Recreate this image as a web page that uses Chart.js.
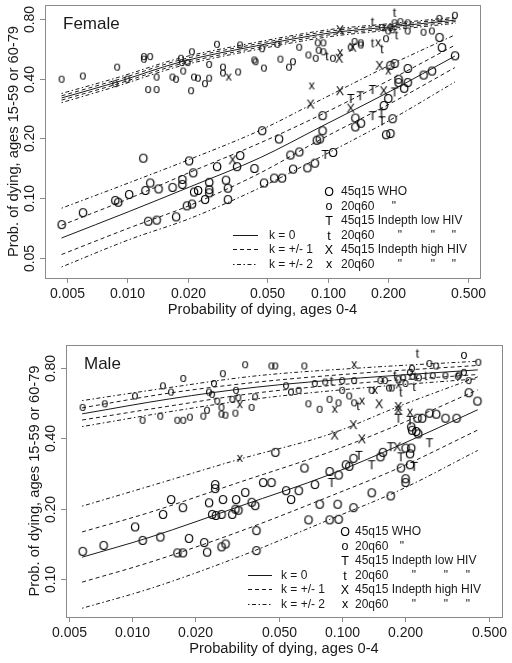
<!DOCTYPE html>
<html><head><meta charset="utf-8">
<script src="https://cdn.jsdelivr.net/npm/chart.js@4"></script>
<style>
html,body{margin:0;padding:0;background:#fff;}
#wrap{position:relative;width:512px;height:663px;overflow:hidden;}
canvas{position:absolute;left:0;}
</style>
</head><body>
<div id="wrap">
<canvas id="fem" width="512" height="320" style="top:0px"></canvas>
<canvas id="mal" width="512" height="343" style="top:320px"></canvas>
</div>
<script>
// ---------------- tick values / labels ----------------
const xTicks = [0.005, 0.010, 0.020, 0.050, 0.100, 0.200, 0.500];
const xTickLabels = ['0.005', '0.010', '0.020', '0.050', '0.100', '0.200', '0.500'];
const femYTicks = [0.05, 0.10, 0.20, 0.40, 0.80];
const femYTickLabels = ['0.05', '0.10', '0.20', '0.40', '0.80'];
const malYTicks = [0.10, 0.20, 0.40, 0.80];
const malYTickLabels = ['0.10', '0.20', '0.40', '0.80'];

const legendSymbols = ['O', 'o', 'T', 't', 'X', 'x'];
const legendTexts = ['45q15 WHO', '20q60', '45q15 Indepth low HIV', '20q60', '45q15 Indepth high HIV', '20q60'];
const kTexts = ['k = 0', 'k = +/- 1', 'k = +/- 2'];

// ---------------- FEMALE model lines ----------------
const femLowX  = [0.0047, 0.0103, 0.0205, 0.046, 0.0915, 0.205, 0.43];
const femLow0  = [0.063, 0.086, 0.114, 0.160, 0.228, 0.346, 0.520];
const femLowP1 = [0.073, 0.100, 0.135, 0.190, 0.262, 0.396, 0.590];
const femLowM1 = [0.052, 0.071, 0.092, 0.134, 0.197, 0.300, 0.455];
const femLowP2 = [0.089, 0.120, 0.157, 0.220, 0.312, 0.470, 0.665];
const femLowM2 = [0.045, 0.062, 0.079, 0.113, 0.161, 0.248, 0.385];

const femUpX  = [0.0047, 0.0089, 0.0183, 0.0438, 0.1025, 0.2045, 0.435];
const femUp0  = [0.320, 0.385, 0.485, 0.585, 0.680, 0.730, 0.790];
const femUpP1 = [0.328, 0.395, 0.497, 0.598, 0.695, 0.745, 0.805];
const femUpM1 = [0.312, 0.376, 0.474, 0.572, 0.666, 0.716, 0.776];
const femUpP2 = [0.337, 0.405, 0.508, 0.610, 0.708, 0.758, 0.818];
const femUpM2 = [0.303, 0.367, 0.463, 0.560, 0.652, 0.703, 0.762];

// ---------------- FEMALE points [x, y] ----------------
const femO = [[0.0047,0.074],[0.006,0.085],[0.0087,0.098],[0.009,0.096],[0.0102,0.105],[0.012,0.16],[0.0123,0.11],[0.0127,0.077],[0.013,0.12],[0.014,0.078],[0.0143,0.112],[0.0168,0.114],[0.0175,0.081],[0.0188,0.125],[0.0188,0.118],[0.0203,0.155],[0.0213,0.135],[0.0198,0.092],[0.021,0.094],[0.0215,0.108],[0.0225,0.11],[0.0244,0.099],[0.0256,0.121],[0.0256,0.111],[0.0256,0.107],[0.028,0.145],[0.031,0.124],[0.0317,0.113],[0.0317,0.099],[0.0352,0.145],[0.0365,0.165],[0.043,0.142],[0.047,0.22],[0.057,0.20],[0.048,0.12],[0.054,0.127],[0.059,0.127],[0.065,0.166],[0.072,0.172],[0.067,0.141],[0.079,0.143],[0.086,0.151],[0.088,0.197],[0.091,0.20],[0.094,0.22],[0.094,0.262],[0.106,0.171],[0.137,0.255],[0.137,0.23],[0.146,0.24],[0.19,0.295],[0.21,0.253],[0.195,0.21],[0.205,0.213],[0.20,0.32],[0.215,0.48],[0.205,0.47],[0.225,0.40],[0.225,0.385],[0.25,0.453],[0.25,0.385],[0.24,0.36],[0.30,0.42],[0.33,0.44],[0.37,0.578],[0.43,0.525],[0.36,0.65]];
const femo = [[0.0047,0.40],[0.006,0.415],[0.0089,0.46],[0.0087,0.38],[0.010,0.40],[0.0121,0.52],[0.0121,0.505],[0.013,0.52],[0.0127,0.355],[0.014,0.355],[0.014,0.41],[0.0168,0.41],[0.0175,0.40],[0.0185,0.51],[0.0187,0.485],[0.019,0.44],[0.020,0.485],[0.021,0.55],[0.0208,0.35],[0.0215,0.41],[0.0225,0.405],[0.0244,0.38],[0.0256,0.475],[0.0256,0.405],[0.028,0.60],[0.030,0.46],[0.030,0.43],[0.0357,0.435],[0.0365,0.595],[0.043,0.50],[0.047,0.57],[0.056,0.60],[0.072,0.58],[0.089,0.61],[0.095,0.61],[0.0436,0.49],[0.048,0.455],[0.058,0.505],[0.064,0.46],[0.067,0.49],[0.080,0.53],[0.087,0.51],[0.090,0.56],[0.095,0.55],[0.106,0.51],[0.13,0.58],[0.136,0.62],[0.146,0.595],[0.146,0.61],[0.186,0.73],[0.195,0.64],[0.20,0.70],[0.205,0.73],[0.21,0.71],[0.215,0.77],[0.23,0.78],[0.25,0.77],[0.25,0.70],[0.30,0.69],[0.33,0.70],[0.36,0.81],[0.43,0.84]];
const femT = [[0.097,0.167],[0.13,0.32],[0.145,0.33],[0.167,0.355],[0.215,0.345],[0.167,0.262],[0.185,0.268],[0.186,0.247]];
const femt = [[0.099,0.525],[0.167,0.78],[0.167,0.61],[0.186,0.57],[0.215,0.87],[0.22,0.67]];
const femX = [[0.0335,0.157],[0.082,0.30],[0.115,0.35],[0.13,0.286],[0.181,0.47],[0.19,0.35],[0.114,0.51],[0.115,0.71],[0.133,0.58]];
const femx = [[0.032,0.41],[0.083,0.37],[0.20,0.44],[0.115,0.545],[0.178,0.61]];

// ---------------- MALE model lines ----------------
const malLowX  = [0.00577, 0.01215, 0.0326, 0.0874, 0.188, 0.442];
const malLow0  = [0.124, 0.151, 0.205, 0.280, 0.374, 0.530];
const malLowP1 = [0.159, 0.193, 0.260, 0.350, 0.460, 0.645];
const malLowM1 = [0.097, 0.118, 0.160, 0.226, 0.300, 0.434];
const malLowP2 = [0.205, 0.250, 0.326, 0.417, 0.550, 0.733];
const malLowM2 = [0.075, 0.091, 0.125, 0.180, 0.240, 0.355];

const malUpX  = [0.00577, 0.0151, 0.0389, 0.122, 0.442];
const malUp0  = [0.509, 0.590, 0.662, 0.725, 0.785];
const malUpP1 = [0.540, 0.625, 0.695, 0.760, 0.820];
const malUpM1 = [0.479, 0.550, 0.625, 0.690, 0.750];
const malUpP2 = [0.580, 0.660, 0.740, 0.800, 0.855];
const malUpM2 = [0.449, 0.520, 0.590, 0.656, 0.719];

// ---------------- MALE points [x, y] ----------------
const malO = [[0.0058,0.132],[0.0073,0.14],[0.0103,0.168],[0.0112,0.147],[0.014,0.19],[0.0136,0.152],[0.0153,0.22],[0.0174,0.203],[0.0164,0.13],[0.0174,0.13],[0.0186,0.15],[0.022,0.144],[0.0227,0.131],[0.0232,0.213],[0.0248,0.255],[0.0248,0.245],[0.024,0.19],[0.025,0.188],[0.0266,0.19],[0.027,0.22],[0.0266,0.138],[0.0278,0.142],[0.0299,0.19],[0.031,0.20],[0.0312,0.22],[0.032,0.198],[0.0345,0.236],[0.037,0.214],[0.0385,0.207],[0.039,0.162],[0.039,0.133],[0.042,0.26],[0.046,0.26],[0.048,0.35],[0.054,0.24],[0.057,0.22],[0.062,0.24],[0.066,0.30],[0.074,0.255],[0.087,0.29],[0.078,0.21],[0.069,0.18],[0.087,0.18],[0.096,0.28],[0.104,0.31],[0.108,0.305],[0.113,0.33],[0.095,0.21],[0.113,0.203],[0.096,0.181],[0.156,0.35],[0.152,0.335],[0.20,0.365],[0.21,0.345],[0.21,0.31],[0.19,0.30],[0.20,0.27],[0.20,0.26],[0.138,0.235],[0.17,0.228],[0.213,0.45],[0.215,0.435],[0.225,0.43],[0.228,0.49],[0.26,0.515],[0.28,0.51],[0.31,0.49],[0.35,0.49],[0.40,0.63],[0.44,0.58],[0.213,0.365],[0.24,0.49],[0.23,0.42]];
const malo = [[0.0058,0.545],[0.0074,0.565],[0.0103,0.61],[0.014,0.674],[0.0153,0.634],[0.0175,0.725],[0.0112,0.48],[0.0136,0.50],[0.0164,0.48],[0.0175,0.48],[0.0188,0.495],[0.0218,0.50],[0.0227,0.53],[0.0232,0.634],[0.024,0.62],[0.0245,0.69],[0.0254,0.58],[0.0266,0.545],[0.0266,0.51],[0.0278,0.505],[0.027,0.76],[0.031,0.515],[0.0312,0.645],[0.030,0.59],[0.032,0.60],[0.0345,0.83],[0.037,0.545],[0.0385,0.605],[0.046,0.82],[0.048,0.82],[0.066,0.82],[0.054,0.675],[0.057,0.634],[0.062,0.645],[0.074,0.69],[0.083,0.70],[0.1,0.71],[0.114,0.71],[0.1,0.645],[0.069,0.565],[0.078,0.535],[0.087,0.59],[0.096,0.57],[0.108,0.61],[0.114,0.57],[0.138,0.645],[0.152,0.71],[0.16,0.71],[0.185,0.72],[0.195,0.73],[0.167,0.66],[0.172,0.66],[0.20,0.69],[0.21,0.77],[0.215,0.80],[0.216,0.74],[0.232,0.73],[0.26,0.84],[0.28,0.82],[0.27,0.745],[0.31,0.745],[0.355,0.74],[0.36,0.75],[0.38,0.77],[0.38,0.91],[0.40,0.71],[0.445,0.85]];
const malT = [[0.089,0.26],[0.12,0.34],[0.138,0.31],[0.17,0.37],[0.19,0.335],[0.22,0.305],[0.185,0.49],[0.21,0.48],[0.26,0.385]];
const malt = [[0.089,0.71],[0.119,0.555],[0.178,0.75],[0.19,0.634],[0.228,0.93],[0.22,0.67],[0.223,0.74],[0.25,0.745]];
const malX = [[0.092,0.415],[0.113,0.46],[0.124,0.40],[0.15,0.565],[0.185,0.55],[0.185,0.53],[0.183,0.37]];
const malx = [[0.0325,0.56],[0.114,0.83],[0.092,0.535],[0.124,0.58],[0.143,0.645],[0.185,0.68],[0.21,0.52],[0.0325,0.33]];

// ---------------- drawing helpers ----------------
const FONT = '"Liberation Sans", Arial, Helvetica, sans-serif';
const INK = '#1a1a1a';
const MARK = '#000';
const DASH = [4, 3];
const DASHDOT = [1.5, 2.5, 4, 2.5];

function glyph(ch) {
  const c = document.createElement('canvas');
  c.width = 16; c.height = 16;
  const g = c.getContext('2d');
  g.font = '12.5px ' + FONT;
  g.fillStyle = MARK;
  g.textAlign = 'center';
  g.textBaseline = 'alphabetic';
  const m = g.measureText(ch);
  const asc = m.actualBoundingBoxAscent, desc = m.actualBoundingBoxDescent;
  g.fillText(ch, 8, Math.round(8 + (asc - desc) / 2));
  return c;
}
const GLYPHS = {};
legendSymbols.forEach(s => GLYPHS[s] = glyph(s));

function pts(arr) { return arr.map(p => ({x: p[0], y: p[1]})); }
function line(xs, ys, dash) {
  return {
    data: xs.map((x, i) => ({x: x, y: ys[i]})),
    showLine: true, pointRadius: 0, borderColor: INK, borderWidth: 1,
    borderDash: dash, cubicInterpolationMode: 'monotone', fill: false
  };
}
function scatter(arr, sym) {
  return { data: pts(arr), pointStyle: GLYPHS[sym], pointRadius: 4, showLine: false };
}

function panelPlugin(P) {
  return {
    id: 'panel_' + P.name,
    afterDraw(chart) {
      const ctx = chart.ctx, a = chart.chartArea;
      const xs = chart.scales.x, ys = chart.scales.y;
      ctx.save();
      // box
      ctx.strokeStyle = '#8a8a8a'; ctx.lineWidth = 1; ctx.setLineDash([]);
      ctx.strokeRect(Math.round(a.left) + 0.5, Math.round(a.top) + 0.5,
                     Math.round(a.right - a.left), Math.round(a.bottom - a.top));
      // x ticks
      ctx.fillStyle = INK;
      ctx.font = '14px ' + FONT;
      ctx.textAlign = 'center'; ctx.textBaseline = 'alphabetic';
      xTicks.forEach((v, i) => {
        const px = Math.round(xs.getPixelForValue(v)) + 0.5;
        ctx.beginPath(); ctx.moveTo(px, a.bottom); ctx.lineTo(px, a.bottom + 5); ctx.stroke();
        ctx.fillText(xTickLabels[i], px, a.bottom + 19.5);
      });
      // y ticks (rotated labels)
      P.yTicks.forEach((v, i) => {
        const py = Math.round(ys.getPixelForValue(v)) + 0.5;
        ctx.beginPath(); ctx.moveTo(a.left - 5, py); ctx.lineTo(a.left, py); ctx.stroke();
        ctx.save();
        ctx.translate(a.left - 16.5 + 5, py);
        ctx.rotate(-Math.PI / 2);
        ctx.fillText(P.yTickLabels[i], 0, 0);
        ctx.restore();
      });
      // axis titles
      ctx.font = '14.7px ' + FONT;
      ctx.fillText('Probability of dying, ages 0-4', (a.left + a.right) / 2, a.bottom + 36);
      ctx.save();
      ctx.translate(a.left - 32.5 + 5.3, (a.top + a.bottom) / 2);
      ctx.rotate(-Math.PI / 2);
      ctx.fillText('Prob. of dying, ages 15-59 or 60-79', 0, 0);
      ctx.restore();
      // panel title
      ctx.font = '17px ' + FONT; ctx.textAlign = 'left';
      ctx.fillText(P.title, a.left + 18, a.top + 23.7);
      // legend (symbols)
      const L = P.legend;
      ctx.font = '12px ' + FONT;
      legendSymbols.forEach((s, i) => {
        const ry = L.rows[i];
        ctx.drawImage(GLYPHS[s], Math.round(L.symX - 8), Math.round(ry - 8));
        ctx.textAlign = 'left';
        ctx.fillText(legendTexts[i], L.textX, ry + 4.3);
      });
      ctx.textAlign = 'center';
      ctx.fillText('"', L.q1, L.rows[1] + 4.3);
      [3, 5].forEach(r => L.q3.forEach(q => ctx.fillText('"', q, L.rows[r] + 4.3)));
      // legend (k lines)
      const dashes = [[], DASH, DASHDOT];
      kTexts.forEach((t, i) => {
        const ry = Math.round(L.rows[3 + i]) + 0.5;
        ctx.strokeStyle = INK; ctx.setLineDash(dashes[i]);
        ctx.beginPath(); ctx.moveTo(L.kx0, ry); ctx.lineTo(L.kx1, ry); ctx.stroke();
        ctx.setLineDash([]);
        ctx.textAlign = 'left';
        ctx.fillText(t, L.kText, L.rows[3 + i] + 4.3);
      });
      ctx.restore();
    }
  };
}

function makePanel(P) {
  const datasets = [];
  [[P.lowX, P.low0, []], [P.lowX, P.lowP1, DASH], [P.lowX, P.lowM1, DASH],
   [P.lowX, P.lowP2, DASHDOT], [P.lowX, P.lowM2, DASHDOT],
   [P.upX, P.up0, []], [P.upX, P.upP1, DASH], [P.upX, P.upM1, DASH],
   [P.upX, P.upP2, DASHDOT], [P.upX, P.upM2, DASHDOT]]
    .forEach(d => datasets.push(line(d[0], d[1], d[2])));
  legendSymbols.forEach(s => datasets.push(scatter(P.points[s], s)));
  const area = P.area;
  new Chart(document.getElementById(P.canvas), {
    type: 'scatter',
    data: { datasets },
    options: {
      responsive: false, animation: false, devicePixelRatio: 1,
      layout: { padding: { left: 0, top: area.t, right: P.w - area.r, bottom: 0 } },
      plugins: { legend: { display: false }, tooltip: { enabled: false } },
      scales: {
        x: { type: 'logarithmic', min: P.xMin, max: P.xMax,
             ticks: { display: false }, grid: { display: false }, border: { display: false },
             afterFit(s) { s.height = P.h - area.b; } },
        y: { type: 'logarithmic', min: P.yMin, max: P.yMax,
             ticks: { display: false }, grid: { display: false }, border: { display: false },
             afterFit(s) { s.width = area.l; } }
      }
    },
    plugins: [panelPlugin(P)]
  });
}

makePanel({
  name: 'female', canvas: 'fem', title: 'Female', w: 512, h: 320,
  area: { l: 45, t: 5, r: 480, b: 278 },
  xMin: 0.003886, xMax: 0.5738, yMin: 0.0396, yMax: 0.941,
  yTicks: femYTicks, yTickLabels: femYTickLabels,
  lowX: femLowX, low0: femLow0, lowP1: femLowP1, lowM1: femLowM1, lowP2: femLowP2, lowM2: femLowM2,
  upX: femUpX, up0: femUp0, upP1: femUpP1, upM1: femUpM1, upP2: femUpP2, upM2: femUpM2,
  points: { O: femO, o: femo, T: femT, t: femt, X: femX, x: femx },
  legend: { symX: 328.5, textX: 341, rows: [191, 205.5, 220, 234.5, 249, 263.5],
            q1: 394, q3: [400, 433, 454], kx0: 233, kx1: 258, kText: 269 }
});

makePanel({
  name: 'male', canvas: 'mal', title: 'Male', w: 512, h: 343,
  area: { l: 66, t: 25, r: 502, b: 297 },
  xMin: 0.004836, xMax: 0.5766, yMin: 0.0688, yMax: 1.003,
  yTicks: malYTicks, yTickLabels: malYTickLabels,
  lowX: malLowX, low0: malLow0, lowP1: malLowP1, lowM1: malLowM1, lowP2: malLowP2, lowM2: malLowM2,
  upX: malUpX, up0: malUp0, upP1: malUpP1, upM1: malUpM1, upP2: malUpP2, upM2: malUpM2,
  points: { O: malO, o: malo, T: malT, t: malt, X: malX, x: malx },
  legend: { symX: 345, textX: 355, rows: [211, 225.5, 240, 254.5, 269, 283.5],
            q1: 402, q3: [414, 446, 468], kx0: 248, kx1: 272, kText: 281 }
});
</script>
</body></html>
